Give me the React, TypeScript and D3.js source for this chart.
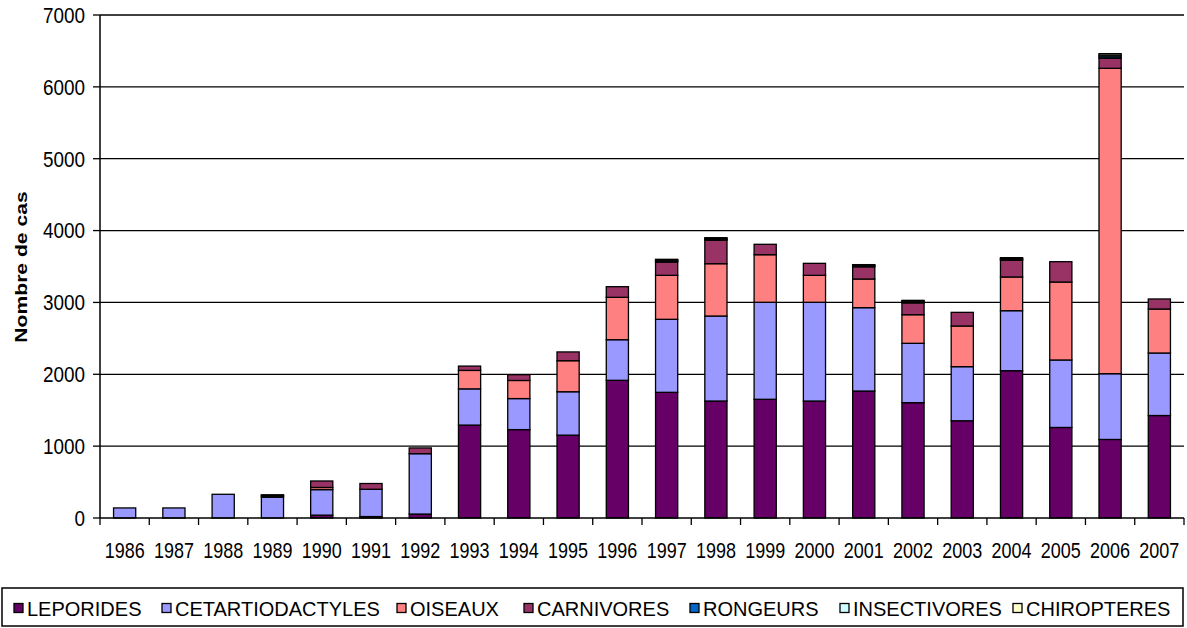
import { useEffect } from "react";
import * as d3 from "d3";

const years = ["1986", "1987", "1988", "1989", "1990", "1991", "1992", "1993", "1994", "1995", "1996", "1997", "1998", "1999", "2000", "2001", "2002", "2003", "2004", "2005", "2006", "2007"];

const leporides = [0, 0, 0, 0, 40, 20, 55, 1293, 1230, 1153, 1916, 1749, 1628, 1652, 1628, 1767, 1605, 1353, 2050, 1260, 1093, 1426];
const cetartiodactyles = [140, 140, 330, 290, 355, 380, 840, 504, 432, 604, 565, 1016, 1183, 1350, 1374, 1160, 826, 753, 835, 939, 915, 870];
const oiseaux = [0, 0, 0, 0, 30, 0, 0, 257, 252, 432, 590, 612, 728, 662, 375, 399, 398, 566, 469, 1085, 4250, 612];
const carnivores = [0, 0, 0, 0, 90, 80, 80, 60, 80, 122, 148, 185, 325, 145, 167, 170, 165, 190, 232, 283, 139, 140];
const rongeurs = [0, 0, 0, 15, 0, 0, 0, 0, 0, 0, 0, 14, 13, 0, 0, 12, 13, 0, 13, 0, 22, 0];
const insectivores = [0, 0, 0, 10, 0, 0, 0, 0, 0, 0, 0, 12, 12, 0, 0, 9, 11, 0, 12, 0, 22, 0];
const chiropteres = [0, 0, 0, 8, 0, 0, 0, 0, 0, 0, 0, 12, 12, 0, 0, 9, 11, 0, 12, 0, 21, 0];

const seriesNames = ["LEPORIDES", "CETARTIODACTYLES", "OISEAUX", "CARNIVORES", "RONGEURS", "INSECTIVORES", "CHIROPTERES"];
const seriesValues = [leporides, cetartiodactyles, oiseaux, carnivores, rongeurs, insectivores, chiropteres];
const seriesColors = ["#660066", "#9999FF", "#FF8080", "#993366", "#0066CC", "#CCFFFF", "#FFFFCC"];
const yTicks = [0, 1000, 2000, 3000, 4000, 5000, 6000, 7000];

// legend marker x positions
const legendX = [14, 162, 397, 524, 690, 840, 1013];

const W = 1187;
const H = 628;
const left = 100;
const right = 1184;
const top = 15;
const bottom = 518;
const font = "'Liberation Sans', Arial, sans-serif";

export default function App() {
  useEffect(() => {
    document.body.style.margin = "0";
  }, []);

  const x = d3.scaleBand().domain(years).range([left, right]).paddingInner(0.55).paddingOuter(0.275);
  const xb = d3.scaleBand().domain(years).range([left, right]);
  const y = d3.scaleLinear().domain([0, 7000]).range([bottom, top]);

  const table = years.map((yr, i) => {
    const row: Record<string, any> = { year: yr };
    seriesNames.forEach((s, j) => (row[s] = seriesValues[j][i]));
    return row;
  });
  const stacked = d3.stack<any>().keys(seriesNames)(table);

  const boundaries = years.map((yr) => xb(yr)!).concat([right]);

  return (
    <svg width={W} height={H} style={{ display: "block" }} fontFamily={font}>
      <rect x={0} y={0} width={W} height={H} fill="#fff" />
      {/* gridlines */}
      {yTicks.slice(1).map((t) => (
        <line key={t} x1={left} x2={right} y1={y(t)} y2={y(t)} stroke="#000" strokeWidth={1.3} />
      ))}
      {/* bars */}
      {stacked.map((layer, j) => (
        <g key={seriesNames[j]} fill={seriesColors[j]} stroke="#000" strokeWidth={1.3}>
          {layer.map((d, i) =>
            d[1] - d[0] > 0 ? (
              <rect key={i} x={x(years[i])} width={x.bandwidth()} y={y(d[1])} height={y(d[0]) - y(d[1])} />
            ) : null
          )}
        </g>
      ))}
      {/* y axis */}
      <line x1={left} x2={left} y1={top} y2={bottom} stroke="#000" strokeWidth={1.5} />
      {yTicks.map((t) => (
        <g key={t}>
          <line x1={left - 7} x2={left} y1={y(t)} y2={y(t)} stroke="#000" strokeWidth={1.3} />
          <text transform={`translate(85,${y(t)}) scale(1.05,1.22)`} textAnchor="end" dy="0.36em" fontSize={18} fill="#000">
            {t}
          </text>
        </g>
      ))}
      {/* x axis */}
      <line x1={left} x2={right} y1={bottom} y2={bottom} stroke="#000" strokeWidth={1.5} />
      {boundaries.map((bx, i) => (
        <line key={i} x1={bx} x2={bx} y1={bottom} y2={bottom + 7} stroke="#000" strokeWidth={1.3} />
      ))}
      {years.map((yr) => (
        <text key={yr} transform={`translate(${x(yr)! + x.bandwidth() / 2},550) scale(1,1.22)`} textAnchor="middle" dy="0.36em" fontSize={18} fill="#000">
          {yr}
        </text>
      ))}
      {/* y title */}
      <text transform="translate(21,267) rotate(-90) scale(1.28,1)" textAnchor="middle" dy="0.36em" fontSize={16.5} fontWeight="bold" fill="#000">
        Nombre de cas
      </text>
      {/* legend */}
      <rect x={2} y={588} width={1181} height={38} fill="#fff" stroke="#000" strokeWidth={1.5} />
      {seriesNames.map((s, j) => (
        <g key={s}>
          <rect x={legendX[j]} y={603.5} width={9} height={9} fill={seriesColors[j]} stroke="#000" strokeWidth={1.3} />
          <text x={legendX[j] + 13} y={615.5} fontSize={20} fill="#000">
            {s}
          </text>
        </g>
      ))}
    </svg>
  );
}
